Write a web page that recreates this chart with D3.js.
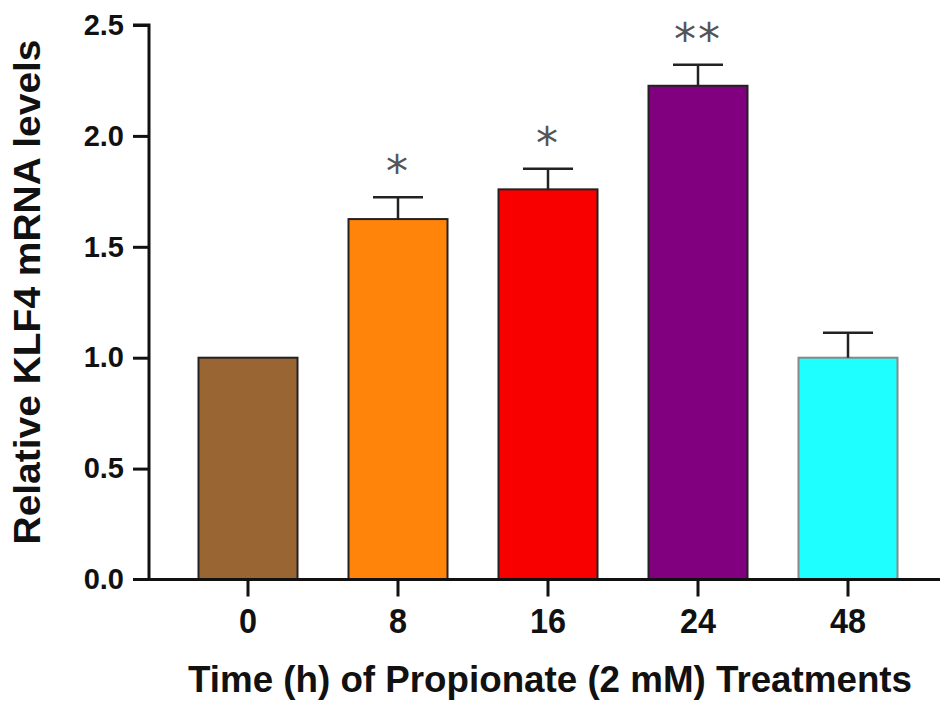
<!DOCTYPE html>
<html><head><meta charset="utf-8">
<script src="https://cdn.jsdelivr.net/npm/d3@7"></script>
<style>body{margin:0;background:#fff}svg text{font-family:"Liberation Sans",Arial,sans-serif;font-weight:bold}</style>
</head><body>
<svg id="c" width="940" height="702"></svg>
<script>
const categories = ["0","8","16","24","48"];
const values = [1.0, 1.625, 1.759, 2.226, 1.0];
const errors = [0, 0.098, 0.093, 0.095, 0.113];
const stars = ["", "*", "*", "**", ""];
const colors = ["#996633","#ff8409","#f90000","#800080","#1effff"];
const strokes = ["#222","#222","#222","#222","#888"];
const yTicks = [0,0.5,1.0,1.5,2.0,2.5];

const svg = d3.select("#c");
const x = d3.scaleBand().domain(categories).range([173,923]).paddingInner(0.34).paddingOuter(0.17);
const y = d3.scaleLinear().domain([0,2.5]).range([579.5,25]);

// bars
svg.selectAll("rect.bar").data(values).join("rect")
  .attr("x",(d,i)=>x(categories[i])).attr("width",x.bandwidth())
  .attr("y",d=>y(d)).attr("height",d=>y(0)-y(d))
  .attr("fill",(d,i)=>colors[i]).attr("stroke",(d,i)=>strokes[i]).attr("stroke-width",2);

// error bars
const capW = 50;
values.forEach((v,i)=>{
  if(!errors[i]) return;
  const cx = x(categories[i])+x.bandwidth()/2;
  svg.append("line").attr("x1",cx).attr("x2",cx).attr("y1",y(v)).attr("y2",y(v+errors[i])).attr("stroke","#222").attr("stroke-width",2.5);
  svg.append("line").attr("x1",cx-capW/2).attr("x2",cx+capW/2).attr("y1",y(v+errors[i])).attr("y2",y(v+errors[i])).attr("stroke","#222").attr("stroke-width",2.5);
  if(stars[i]) svg.append("text").attr("x",cx).attr("y",y(v+errors[i])-10)
    .attr("text-anchor","middle").attr("font-size",44).style("font-family","DejaVu Sans").style("font-weight","normal")
    .attr("fill","#555").attr("letter-spacing",2).text(stars[i]);
});

// y axis
const ya = svg.append("g").attr("transform","translate(149,0)")
  .call(d3.axisLeft(y).tickValues(yTicks).tickFormat(d3.format(".1f")).tickSize(16).tickPadding(9));
ya.select(".domain").attr("stroke","#111").attr("stroke-width",3).attr("d","M-16,25H0V581");
ya.selectAll(".tick line").attr("stroke","#111").attr("stroke-width",3);
ya.selectAll(".tick text").attr("font-size",29).attr("fill","#111");
ya.selectAll(".tick").filter(d=>d===0).select("line").remove();

// x axis
const xa = svg.append("g").attr("transform","translate(0,579.5)")
  .call(d3.axisBottom(x).tickSize(17).tickPadding(11));
xa.select(".domain").attr("d","M133,0H940").attr("stroke","#111").attr("stroke-width",3);
xa.selectAll(".tick line").attr("stroke","#111").attr("stroke-width",3);
xa.selectAll(".tick text").attr("font-size",36).attr("fill","#111").attr("transform","scale(0.9,1)");

// titles
svg.append("text").attr("x",550).attr("y",692).attr("text-anchor","middle")
  .attr("font-size",37).attr("fill","#111")
  .attr("textLength",724).attr("lengthAdjust","spacingAndGlyphs")
  .text("Time (h) of Propionate (2 mM)  Treatments");
svg.append("text").attr("transform","translate(40,292) rotate(-90)").attr("text-anchor","middle")
  .attr("font-size",37).attr("fill","#111")
  .attr("textLength",505).attr("lengthAdjust","spacingAndGlyphs")
  .text("Relative KLF4 mRNA levels");
</script>
</body></html>
